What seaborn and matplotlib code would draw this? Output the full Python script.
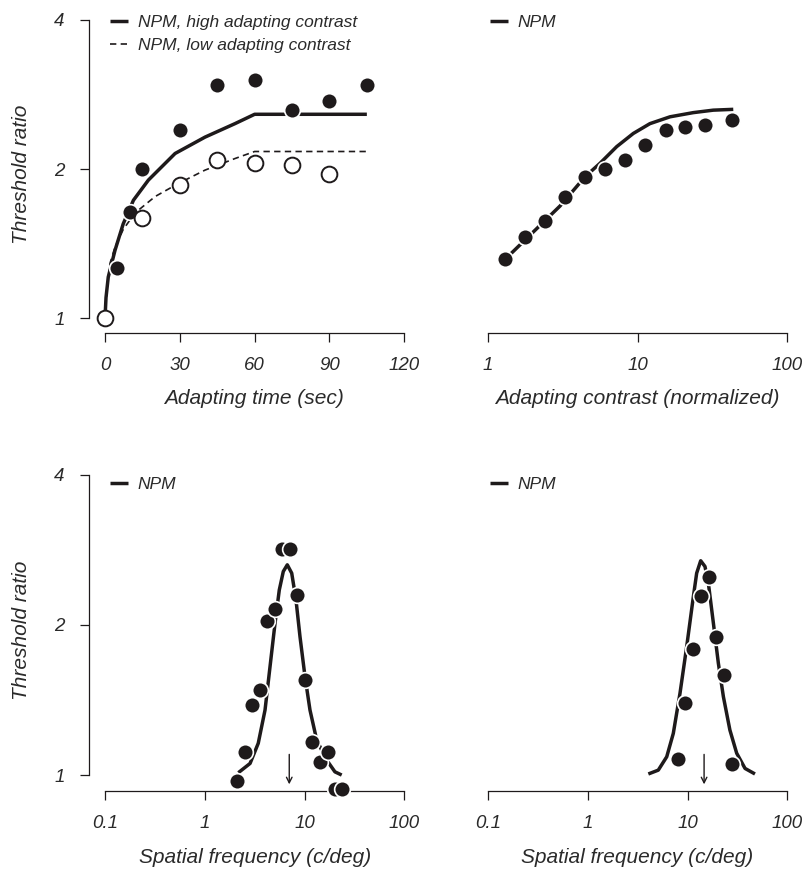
import matplotlib
matplotlib.use("Agg")
import matplotlib.pyplot as plt
import seaborn as sns
from matplotlib.ticker import FixedLocator, FixedFormatter, NullLocator

# ---------------- data ----------------
# Panel A: threshold ratio vs adapting time
time_high = [5, 10, 15, 30, 45, 60, 75, 90, 105]
ratio_high = [1.26, 1.64, 2.0, 2.40, 2.95, 3.02, 2.63, 2.75, 2.95]
time_low = [0, 15, 30, 45, 60, 75, 90]
ratio_low = [1.0, 1.59, 1.86, 2.09, 2.06, 2.04, 1.95]
fit_time_high = [0, 0.4, 1.3, 4.0, 7.3, 11.4, 17.4, 28.1, 40.1, 52.1, 60, 105]
fit_ratio_high = [1.0, 1.10, 1.21, 1.37, 1.55, 1.73, 1.90, 2.15, 2.32, 2.47, 2.58, 2.58]
fit_time_low = [0, 0.5, 2.0, 4.0, 7.3, 12.0, 20.1, 29.4, 40.1, 52.1, 60, 105]
fit_ratio_low = [1.0, 1.10, 1.29, 1.39, 1.51, 1.63, 1.76, 1.87, 1.99, 2.10, 2.17, 2.17]

# Panel B: threshold ratio vs adapting contrast
contrast = [1.29, 1.76, 2.39, 3.26, 4.43, 6.09, 8.29, 11.3, 15.4, 20.9, 28.4, 42.9]
ratio_contrast = [1.315, 1.46, 1.57, 1.76, 1.93, 2.00, 2.09, 2.24, 2.40, 2.43, 2.46, 2.51]
fit_contrast = [1.30, 3.03, 4.46, 5.61, 7.26, 9.37, 12.1, 16.5, 23.6, 32.1, 43.7]
fit_ratio_contrast = [1.314, 1.684, 1.93, 2.054, 2.22, 2.36, 2.47, 2.55, 2.60, 2.63, 2.64]

# Panel C: threshold ratio vs spatial frequency (adapt ~7 c/deg)
sf_c = [2.11, 2.52, 2.98, 3.56, 4.22, 5.04, 5.97, 7.13, 8.44, 10.08, 11.9, 14.3, 17.0, 20.2, 23.9]
ratio_c = [0.973, 1.11, 1.379, 1.478, 2.04, 2.15, 2.84, 2.84, 2.30, 1.55, 1.163, 1.064, 1.11, 0.936, 0.936]
fit_sf_c = [2.16, 2.83, 3.42, 4.0, 4.49, 5.04, 5.56, 6.10, 6.69, 7.41, 8.18, 8.97, 10.07,
            11.3, 13.2, 16.6, 20.1, 23.5]
fit_ratio_c = [1.011, 1.055, 1.158, 1.35, 1.65, 2.016, 2.35, 2.56, 2.64, 2.54, 2.245, 1.895,
               1.575, 1.35, 1.175, 1.072, 1.015, 1.0]
adapt_sf_c = 7.0

# Panel D: threshold ratio vs spatial frequency (adapt ~14.6 c/deg)
sf_d = [8.0, 9.48, 11.3, 13.7, 16.4, 19.4, 23.2, 27.9]
ratio_d = [1.075, 1.394, 1.79, 2.29, 2.49, 1.89, 1.59, 1.052]
fit_sf_d = [4.03, 5.07, 6.16, 7.17, 8.37, 9.77, 11.4, 12.3, 13.5, 14.9, 16.1, 18.1, 20.3,
            22.8, 26.5, 31.0, 37.6, 47.3]
fit_ratio_d = [1.005, 1.023, 1.088, 1.212, 1.459, 1.81, 2.28, 2.54, 2.69, 2.62, 2.43, 2.016,
               1.676, 1.436, 1.231, 1.106, 1.031, 1.005]
adapt_sf_d = 14.6

# ticks
y_ticks = [1, 2, 4]
y_ticklabels = ["1", "2", "4"]
time_ticks = [0, 30, 60, 90, 120]
time_ticklabels = ["0", "30", "60", "90", "120"]
contrast_ticks = [1, 10, 100]
contrast_ticklabels = ["1", "10", "100"]
sf_ticks = [0.1, 1, 10, 100]
sf_ticklabels = ["0.1", "1", "10", "100"]

# ---------------- style ----------------
sns.set_style("ticks")
plt.rcParams["font.family"] = ["Liberation Sans", "DejaVu Sans"]
plt.rcParams["font.style"] = "italic"
INK = "#1e1a1b"
TXT = "#2a2a2a"
MS = 128

W, H = 809, 869
fig = plt.figure(figsize=(W / 100, H / 100), dpi=100)


def new_axes(l, r, t, b):
    return fig.add_axes([l / W, 1 - b / H, (r - l) / W, (b - t) / H])


def style_axes(ax, xbounds, show_left):
    for s in ["top", "right"]:
        ax.spines[s].set_visible(False)
    ax.spines["bottom"].set_bounds(*xbounds)
    ax.spines["bottom"].set_color(INK)
    ax.spines["bottom"].set_linewidth(0.9)
    ax.set_yscale("log", base=2)
    ax.yaxis.set_major_locator(FixedLocator(y_ticks))
    ax.yaxis.set_major_formatter(FixedFormatter(y_ticklabels))
    ax.yaxis.set_minor_locator(NullLocator())
    if show_left:
        ax.spines["left"].set_bounds(1, 4)
        ax.spines["left"].set_color(INK)
        ax.spines["left"].set_linewidth(0.9)
        ax.set_ylabel("Threshold ratio", fontsize=15, color=TXT)
    else:
        ax.spines["left"].set_visible(False)
        ax.tick_params(axis="y", left=False, labelleft=False)
    ax.tick_params(direction="out", length=6.5, width=0.9, pad=11,
                   labelsize=13.5, colors=INK, labelcolor=TXT)
    ax.set_facecolor("white")


def set_log_x(ax, ticks, labels):
    ax.set_xscale("log")
    ax.xaxis.set_major_locator(FixedLocator(ticks))
    ax.xaxis.set_major_formatter(FixedFormatter(labels))
    ax.xaxis.set_minor_locator(NullLocator())


def filled(ax, x, y):
    sns.scatterplot(x=x, y=y, ax=ax, s=MS, color=INK, edgecolor="white",
                    linewidth=1.2, zorder=4, clip_on=False, legend=False)


def fit_line(ax, x, y, label, lw=2.5):
    sns.lineplot(x=x, y=y, ax=ax, sort=False, estimator=None, color=INK,
                 linewidth=lw, label=label, solid_joinstyle="round",
                 solid_capstyle="butt")


def npm_legend(ax, handles, labels, x_px, y_px):
    ax.legend(handles=handles, labels=labels, loc="upper left",
              bbox_to_anchor=(x_px / W, 1 - y_px / H), bbox_transform=fig.transFigure,
              frameon=False, fontsize=12.5, handlelength=1.05, handletextpad=0.55,
              labelspacing=0.42, borderpad=0, borderaxespad=0, labelcolor=TXT)


# ---------------- Panel A ----------------
axA = new_axes(89, 408, 15, 333)
style_axes(axA, (0, 120), True)
axA.xaxis.set_major_locator(FixedLocator(time_ticks))
axA.xaxis.set_major_formatter(FixedFormatter(time_ticklabels))
fit_line(axA, fit_time_high, fit_ratio_high, "NPM, high adapting contrast")
sns.lineplot(x=fit_time_low, y=fit_ratio_low, ax=axA, sort=False, estimator=None,
             color=INK, linewidth=1.2, label="NPM, low adapting contrast")
axA.lines[1].set_dashes((3.8, 2.6))
filled(axA, time_high, ratio_high)
sns.scatterplot(x=time_low, y=ratio_low, ax=axA, s=MS, color="white", edgecolor=INK,
                linewidth=1.4, zorder=5, clip_on=False, legend=False)
axA.set_xlim(-6.42, 121.5)
axA.set_ylim(0.933, 4.094)
axA.set_xlabel("Adapting time (sec)", fontsize=15, color=TXT)
axA.xaxis.set_label_coords((254 - 89) / 319, (333 - 389) / 318)
axA.yaxis.set_label_coords(-0.182, 0.5)
npm_legend(axA, axA.lines[:2], ["NPM, high adapting contrast", "NPM, low adapting contrast"],
           110, 15)

# ---------------- Panel B ----------------
axB = new_axes(478, 790, 15, 333)
style_axes(axB, (1, 100), False)
set_log_x(axB, contrast_ticks, contrast_ticklabels)
fit_line(axB, fit_contrast, fit_ratio_contrast, "NPM")
filled(axB, contrast, ratio_contrast)
axB.set_xlim(0.857, 104.7)
axB.set_ylim(0.933, 4.094)
axB.set_xlabel("Adapting contrast (normalized)", fontsize=15, color=TXT)
axB.xaxis.set_label_coords((637 - 478) / 312, (333 - 389) / 318)
npm_legend(axB, axB.lines[:1], ["NPM"], 490, 15)

# ---------------- Panel C ----------------
axC = new_axes(89, 408, 470, 791)
style_axes(axC, (0.1, 100), True)
set_log_x(axC, sf_ticks, sf_ticklabels)
fit_line(axC, fit_sf_c, fit_ratio_c, "NPM")
filled(axC, sf_c, ratio_c)
axC.annotate("", xy=(adapt_sf_c, 0.958), xytext=(adapt_sf_c, 1.10),
             arrowprops=dict(arrowstyle="->", color=INK, lw=1.0, shrinkA=0, shrinkB=0,
                             mutation_scale=10))
axC.set_xlim(0.0686, 108.7)
axC.set_ylim(0.929, 4.09)
axC.set_xlabel("Spatial frequency (c/deg)", fontsize=15, color=TXT)
axC.xaxis.set_label_coords((255 - 89) / 319, (791 - 848) / 321)
axC.yaxis.set_label_coords(-0.182, 0.5)
npm_legend(axC, axC.lines[:1], ["NPM"], 110, 477)

# ---------------- Panel D ----------------
axD = new_axes(478, 790, 470, 791)
style_axes(axD, (0.1, 100), False)
set_log_x(axD, sf_ticks, sf_ticklabels)
fit_line(axD, fit_sf_d, fit_ratio_d, "NPM")
filled(axD, sf_d, ratio_d)
axD.annotate("", xy=(adapt_sf_d, 0.958), xytext=(adapt_sf_d, 1.10),
             arrowprops=dict(arrowstyle="->", color=INK, lw=1.0, shrinkA=0, shrinkB=0,
                             mutation_scale=10))
axD.set_xlim(0.0788, 106.2)
axD.set_ylim(0.929, 4.09)
axD.set_xlabel("Spatial frequency (c/deg)", fontsize=15, color=TXT)
axD.xaxis.set_label_coords((637 - 478) / 312, (791 - 848) / 321)
npm_legend(axD, axD.lines[:1], ["NPM"], 490, 477)

fig.savefig("out.png", dpi=100, facecolor="white")
